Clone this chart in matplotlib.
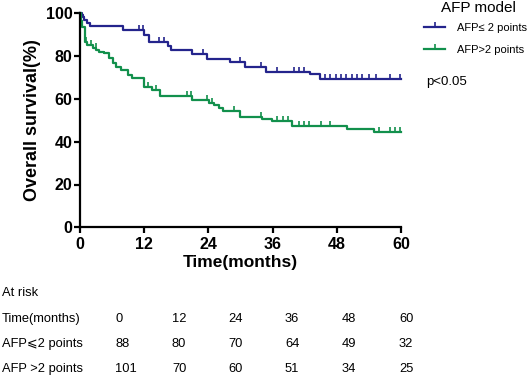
import numpy as np
import matplotlib.pyplot as plt
from matplotlib.path import Path
from matplotlib.lines import Line2D

plt.rcParams['font.family'] = ['Liberation Sans', 'DejaVu Sans']

# Kaplan-Meier steps
blue_t = [0, 0.3, 0.5, 0.8, 1.4, 1.9, 8.0, 12.0, 12.9, 16.5, 17.0, 20.9, 23.8,
          28.0, 30.9, 34.8, 42.9, 44.8, 60]
blue_s = [100, 99.0, 98.4, 96.9, 95.3, 94.2, 92.2, 89.9, 86.4, 84.5, 82.9, 80.8,
          78.5, 77.1, 75.0, 72.7, 71.6, 69.3, 69.3]
blue_cens = [11.0, 11.8, 14.8, 15.7, 22.9, 29.9, 33.8, 36.9, 40.0, 40.9, 41.8,
             45.8, 46.8, 47.8, 48.8, 49.8, 50.8, 51.8, 52.8, 54.0, 55.3, 57.9, 59.9]

green_t = [0, 0.2, 0.4, 0.9, 1.4, 2.4, 3.0, 3.6, 4.5, 5.5, 6.1, 6.7, 7.7, 8.9,
           9.8, 12.0, 13.5, 15.0, 21.0, 24.1, 25.1, 25.9, 26.8, 29.9, 34.1,
           35.9, 39.7, 49.9, 54.9, 60]
green_s = [100, 96.5, 93.5, 86.7, 85.2, 83.6, 82.8, 82.0, 81.3, 78.9, 76.6,
           75.1, 73.5, 71.2, 69.6, 65.7, 64.1, 61.4, 59.6, 58.2, 57.1, 55.6,
           54.5, 51.4, 50.5, 49.6, 47.3, 45.8, 44.4, 44.4]
green_cens = [1.1, 2.0, 2.9, 12.7, 14.2, 20.0, 20.7, 23.8, 24.7, 28.8, 33.8,
              36.9, 37.9, 38.8, 40.9, 41.8, 42.8, 45.0, 46.8, 55.8, 58.0, 58.9, 59.9]

group_labels = ['AFP≤ 2 points', 'AFP>2 points']
risk_times = [0, 12, 24, 36, 48, 60]
risk_blue = [88, 80, 70, 64, 49, 32]
risk_green = [101, 70, 60, 51, 34, 25]
risk_rows = ['AFP⩽2 points', 'AFP >2 points']

blue = '#24248c'
green = '#12904c'
tick_up = Path([(0, 0), (0, 1)])


def surv_at(t, times, surv):
    i = np.searchsorted(times, t, side='right') - 1
    return np.array(surv)[i]


fig = plt.figure(figsize=(5.32, 3.78), dpi=100)
ax = fig.add_axes([80/532, 1-227.3/378, 321/532, 214/378])

for t, s, c, col in [(blue_t, blue_s, blue_cens, blue), (green_t, green_s, green_cens, green)]:
    ax.step(t, s, where='post', color=col, lw=1.6, clip_on=False)
    ax.plot(c, surv_at(c, t, s), ls='none', marker=tick_up, ms=7.5, mew=1.2,
            color=col, clip_on=False)

ax.set_xlim(0, 60)
ax.set_ylim(0, 100)
ax.set_xticks(range(0, 61, 12))
ax.set_yticks(range(0, 101, 20))
for sp in ['top', 'right']:
    ax.spines[sp].set_visible(False)
for sp in ['left', 'bottom']:
    ax.spines[sp].set_linewidth(1.6)
ax.tick_params(width=1.6, length=4, labelsize=11.5, pad=1.5)
ax.tick_params(axis='x', pad=3)
for lab in ax.get_xticklabels() + ax.get_yticklabels():
    lab.set_fontweight('bold')
ax.set_xlabel('Time(months)', fontsize=12.5, fontweight='bold', labelpad=2)
ax.set_ylabel('Overall survival(%)', fontsize=13, fontweight='bold', labelpad=3)

handles = [Line2D([], [], color=blue, lw=1.6, marker=tick_up, ms=7.5, mew=1.2),
           Line2D([], [], color=green, lw=1.6, marker=tick_up, ms=7.5, mew=1.2)]
fig.text(478/532, 1-8/378, 'AFP model', fontsize=11, ha='center', va='center')
fig.legend(handles, group_labels, loc='upper left', bbox_to_anchor=(421/532, 1-20/378),
           frameon=False, fontsize=8, numpoints=1, handlelength=1.9,
           labelspacing=1.05, handletextpad=1.0, borderaxespad=0, borderpad=0.3)

fig.text(426/532, 1-82/378, 'p<0.05', fontsize=9.5, va='center')

fig.text(2/532, 1-293/378, 'At risk', fontsize=9.3, va='center')
col_x = [115, 172, 228, 285, 342, 399]
rows = [('Time(months)', risk_times), (risk_rows[0], risk_blue), (risk_rows[1], risk_green)]
for r, (name, vals) in enumerate(rows):
    y = 1 - (319 + 25*r)/378
    fig.text(2/532, y, name, fontsize=9.3, va='center')
    for x, v in zip(col_x, vals):
        fig.text(x/532, y, str(v), fontsize=9.3, va='center')

fig.savefig('out.png', dpi=100)
